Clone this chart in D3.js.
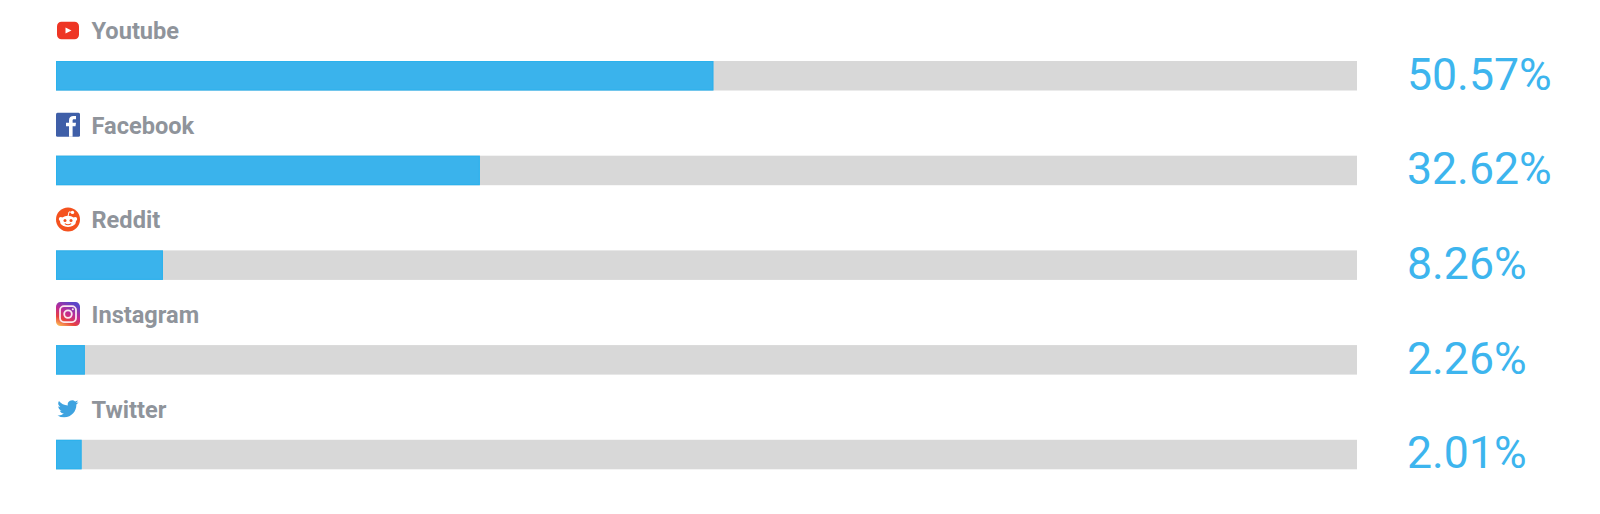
<!DOCTYPE html>
<html><head><meta charset="utf-8">
<script src="https://cdn.jsdelivr.net/npm/d3@7/dist/d3.min.js"></script>
<style>html,body{margin:0;padding:0;background:#fff}svg{display:block}</style>
</head><body><svg id="c" width="1600" height="514"></svg>
<script>
const categories = ["Youtube","Facebook","Reddit","Instagram","Twitter"];
const shares = [50.57,32.62,8.26,2.26,2.01];
const valueLabels = ["50.57%","32.62%","8.26%","2.26%","2.01%"];

const svg = d3.select("#c");
const x = d3.scaleLinear().domain([0,100]).range([55.5,1356.5]);
const trackLeft = 56, trackRight = 1357;
const y = d3.scaleBand().domain(categories).range([61,534.5]).paddingInner(0).paddingOuter(0);
const barH = 29.5;
const blue = "#3ab3ec";

const rows = svg.selectAll("g.row").data(categories).join("g").attr("class","row")
  .attr("transform", d => `translate(0,${y(d)})`);

rows.append("rect").attr("x",trackLeft).attr("y",0).attr("width",trackRight-trackLeft).attr("height",barH).attr("fill","#d8d8d8");
rows.append("rect").attr("x",trackLeft).attr("y",0).attr("width",(d,i)=>x(shares[i])-trackLeft).attr("height",barH).attr("fill",blue);
rows.append("rect").attr("x",trackLeft+.5).attr("y",.5).attr("width",(d,i)=>x(shares[i])-trackLeft-1).attr("height",barH-1)
  .attr("fill","none").attr("stroke","#1fb0ee").attr("stroke-opacity",.55);
rows.append("text").text(d=>d).attr("x",91.5).attr("y",-22)
  .attr("font-family","Roboto").attr("font-weight",700).attr("font-size",23.6).attr("fill","#8f949b");
rows.append("text").text((d,i)=>valueLabels[i]).attr("x",1407).attr("y",28.5)
  .attr("font-family","Roboto").attr("font-weight",400).attr("font-size",44.6).attr("fill","#3db5ee");

const icons = {
  Youtube(g){
    g.append("rect").attr("x",1).attr("y",3.7).attr("width",22).attr("height",17.6).attr("rx",4.5).attr("fill","#ee3524");
    g.append("path").attr("d","M9.5 9.5L15.5 12.5L9.5 15.5Z").attr("fill","#fff");
  },
  Facebook(g){
    g.append("rect").attr("width",24).attr("height",24).attr("rx",1.5).attr("fill","#3f5fa8");
    g.append("path").attr("d","M13 24V13.5H10V10H13V7.5C13 4.5 15 3.2 17.2 3.2H20V6.6H18C16.8 6.6 16.6 7.2 16.6 8V10H20L19.5 13.5H16.6V24Z").attr("fill","#fff");
  },
  Reddit(g){
    g.append("circle").attr("cx",12).attr("cy",12).attr("r",12).attr("fill","#f4511e");
    g.append("ellipse").attr("cx",12).attr("cy",14).attr("rx",8).attr("ry",5.6).attr("fill","#fff");
    g.append("circle").attr("cx",4.8).attr("cy",11.5).attr("r",2).attr("fill","#fff");
    g.append("circle").attr("cx",19.2).attr("cy",11.5).attr("r",2).attr("fill","#fff");
    g.append("circle").attr("cx",16.5).attr("cy",5).attr("r",1.7).attr("fill","#fff");
    g.append("path").attr("d","M12 9L13 4.5L16.5 5").attr("fill","none").attr("stroke","#fff").attr("stroke-width",1);
    g.append("circle").attr("cx",9).attr("cy",13).attr("r",1.5).attr("fill","#f4511e");
    g.append("circle").attr("cx",15).attr("cy",13).attr("r",1.5).attr("fill","#f4511e");
    g.append("path").attr("d","M8.8 16.2Q12 18.5 15.2 16.2").attr("fill","none").attr("stroke","#f4511e").attr("stroke-width",1.1);
  },
  Instagram(g){
    const grad = svg.append("defs").append("linearGradient").attr("id","ig")
      .attr("x1","0.1").attr("y1","1").attr("x2","0.6").attr("y2","0");
    [["0","#fdc35a"],["0.3","#e8413e"],["0.6","#c02a94"],["1","#5a46c8"]].forEach(s=>
      grad.append("stop").attr("offset",s[0]).attr("stop-color",s[1]));
    g.append("rect").attr("width",24).attr("height",24).attr("rx",4.5).attr("fill","url(#ig)");
    g.append("rect").attr("x",4).attr("y",4).attr("width",16).attr("height",16).attr("rx",4).attr("fill","none").attr("stroke","#fbe8ee").attr("stroke-width",1.8);
    g.append("circle").attr("cx",12).attr("cy",12).attr("r",3.8).attr("fill","none").attr("stroke","#fbe8ee").attr("stroke-width",1.8);
    g.append("circle").attr("cx",16.8).attr("cy",7.2).attr("r",1).attr("fill","#fbe8ee");
  },
  Twitter(g){
    g.append("path").attr("transform","translate(1.5,1.5) scale(0.875)")
     .attr("d","M23.95 4.57a10 10 0 0 1-2.82.77 4.96 4.96 0 0 0 2.16-2.72c-.95.55-2 .96-3.12 1.18a4.92 4.92 0 0 0-8.38 4.48C7.69 8.1 4.07 6.13 1.64 3.16a4.93 4.93 0 0 0 1.52 6.57 4.9 4.9 0 0 1-2.23-.62v.06a4.92 4.92 0 0 0 3.95 4.83c-.72.2-1.48.22-2.22.08a4.93 4.93 0 0 0 4.6 3.42A9.87 9.87 0 0 1 0 19.54a13.94 13.94 0 0 0 7.55 2.21c9.05 0 14-7.5 14-14 0-.21 0-.42-.02-.63a10 10 0 0 0 2.46-2.55z")
     .attr("fill","#3ea3e0");
  }
};
rows.append("g").attr("transform","translate(56,-43)").each(function(d){ icons[d](d3.select(this)); });
</script></body></html>
